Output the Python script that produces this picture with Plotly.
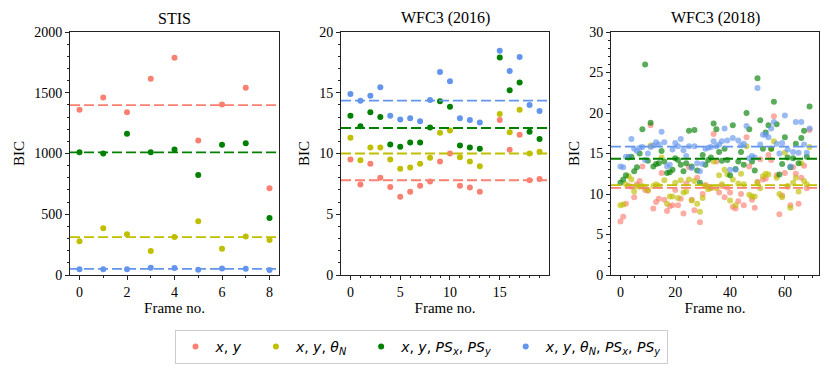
import plotly.graph_objects as go

# ---- data ----
labels = ["<i>x</i>, <i>y</i>&nbsp;&nbsp;",
          "<i>x</i>, <i>y</i>, <i>θ</i><sub><i>N</i></sub>&nbsp;&nbsp;",
          "<i>x</i>, <i>y</i>, <i>PS</i><sub><i>x</i></sub>, <i>PS</i><sub><i>y</i></sub>&nbsp;&nbsp;",
          "<i>x</i>, <i>y</i>, <i>θ</i><sub><i>N</i></sub>, <i>PS</i><sub><i>x</i></sub>, <i>PS</i><sub><i>y</i></sub>"]
colors = ["#fa8072", "#bfbf00", "#008000", "#6495ed"]
titles = ["STIS", "WFC3 (2016)", "WFC3 (2018)"]

stis_frames = list(range(9))
stis_xy = [1360, 1460, 1340, 1615, 1788, 1107, 1404, 1541, 714]
stis_xy_theta = [277, 385, 335, 198, 313, 442, 217, 316, 288]
stis_xy_ps = [1010, 1000, 1162, 1010, 1033, 824, 1071, 1085, 470]
stis_all = [48, 47, 47, 60, 57, 43, 53, 52, 42]
stis_lines = [1398, 312, 1010, 50]

w16_frames = [0, 1, 2, 3, 4, 5, 6, 7, 8, 9, 10, 11, 12, 13, 15, 16, 17, 18, 19]
w16_xy = [9.5, 7.45, 9.15, 8.0, 7.25, 6.45, 6.85, 7.35, 7.7, 9.35, 10.0, 7.35, 7.2, 6.85,
          12.75, 10.3, 11.55, 7.8, 7.9]
w16_xy_theta = [11.3, 9.45, 10.5, 10.5, 9.5, 8.75, 8.85, 9.15, 9.65, 11.7, 11.9, 9.7, 9.35, 8.95,
                13.25, 11.75, 13.6, 10.0, 10.15]
w16_xy_ps = [13.1, 12.25, 13.4, 13.0, 10.75, 10.55, 10.9, 10.9, 12.15, 14.3, 13.85, 10.65, 10.5, 10.4,
             17.9, 15.2, 15.85, 11.8, 11.2]
w16_all = [14.9, 14.35, 14.75, 15.45, 13.1, 12.8, 12.9, 12.65, 14.4, 16.7, 15.95, 12.9, 12.75, 12.55,
           18.45, 16.8, 17.95, 14.0, 13.5]
w16_lines = [7.8, 10.0, 12.1, 14.35]

w18_frames = list(range(70))
w18_xy = [6.6, 7.2, 8.8, 11.0, 10.9, 9.6, 11.2, 11.6, 13.4, 10.5,
          10.4, 18.5, 8.2, 9.0, 9.4, 12.6, 9.3, 7.9, 8.5, 8.6,
          10.5, 8.6, 9.4, 7.6, 11.3, 13.3, 9.3, 8.0, 12.0, 6.5,
          10.0, 11.1, 10.9, 10.7, 17.4, 14.0, 10.2, 11.0, 9.6, 10.8,
          10.2, 8.4, 8.2, 9.1, 10.0, 8.6, 17.0, 13.4, 9.3, 8.3,
          11.5, 14.3, 11.8, 11.9, 14.8, 14.2, 19.6, 12.3, 7.5, 9.8,
          12.6, 10.9, 8.6, 13.3, 12.5, 8.8, 12.0, 13.5, 10.7, 17.9]
w18_xy_theta = [8.6, 8.7, 11.2, 12.2, 11.8, 10.3, 11.0, 10.9, 11.0, 10.8,
                10.5, 16.0, 11.0, 11.2, 11.0, 14.5, 11.7, 8.8, 9.7, 9.7,
                11.4, 9.5, 11.7, 10.2, 10.3, 11.8, 9.2, 11.6, 8.8, 7.8,
                9.5, 11.0, 10.6, 10.8, 14.0, 10.7, 12.3, 11.2, 13.0, 12.4,
                9.2, 11.8, 8.6, 11.3, 12.5, 11.2, 15.9, 9.9, 9.7, 9.7,
                11.4, 10.7, 12.2, 12.5, 12.4, 15.6, 16.5, 12.0, 10.0, 9.6,
                15.1, 11.0, 8.3, 11.4, 12.0, 10.3, 13.8, 11.6, 11.2, 15.8]
w18_xy_ps = [11.4, 11.8, 12.3, 14.5, 14.6, 12.8, 13.3, 15.0, 18.0, 26.0,
             14.1, 18.8, 13.4, 13.7, 13.8, 15.3, 14.0, 12.6, 12.7, 13.0,
             14.4, 14.2, 13.6, 12.8, 13.8, 17.8, 13.4, 17.9, 12.9, 11.4,
             14.8, 13.6, 14.2, 14.5, 18.7, 18.0, 15.2, 14.1, 15.6, 14.2,
             12.3, 18.5, 13.1, 14.0, 15.2, 13.6, 20.0, 18.0, 14.0, 12.9,
             24.3, 19.1, 15.6, 17.6, 18.5, 15.6, 21.4, 18.6, 12.4, 13.7,
             17.0, 14.5, 13.3, 14.4, 16.2, 13.8, 16.9, 17.8, 14.6, 20.8]
w18_all = [13.4, 13.3, 14.6, 14.6, 16.8, 15.6, 15.3, 15.7, 15.8, 14.2,
           15.0, 15.8, 16.0, 16.4, 16.1, 17.7, 16.4, 13.4, 13.6, 15.5,
           16.3, 15.9, 16.8, 15.4, 14.7, 15.9, 13.2, 15.9, 13.8, 12.8,
           13.7, 15.6, 15.7, 15.8, 16.5, 15.9, 16.1, 16.5, 18.1, 16.6,
           13.0, 16.9, 13.0, 16.6, 16.0, 16.2, 18.4, 14.4, 14.7, 14.5,
           23.1, 16.1, 17.3, 17.3, 17.0, 18.1, 18.9, 16.2, 15.0, 16.3,
           19.7, 15.5, 13.4, 15.2, 18.9, 15.1, 18.9, 16.1, 15.1, 18.1]
w18_lines = [10.75, 11.1, 14.35, 15.85]

panels = [
    (stis_frames, [stis_xy, stis_xy_theta, stis_xy_ps, stis_all], stis_lines, 1.0),
    (w16_frames, [w16_xy, w16_xy_theta, w16_xy_ps, w16_all], w16_lines, 1.0),
    (w18_frames, [w18_xy, w18_xy_theta, w18_xy_ps, w18_all], w18_lines, 0.65),
]
xranges = [[-0.4, 8.4], [-0.95, 19.95], [-3.45, 72.45]]
yranges = [[0, 2000], [0, 20], [0, 30]]
xdtick = [2, 5, 20]
xminor = [1, 1, 5]
ydtick = [500, 5, 5]
yminor = [100, 1, 1]

# the page body adds an 8px margin, so pixel positions are shifted back by 8
W, H, OFF = 830, 371, 8
def px(x):
    return (x - OFF) / W
def py(y):
    return 1 - (y - OFF) / H

xdomains = [[px(70), px(279)], [px(341), px(549)], [px(611), px(819)]]
ydomain = [py(275), py(32)]

serif = "Liberation Serif"
fig = go.Figure()

for p, (frames, series, lines, alpha) in enumerate(panels):
    xa = "x" if p == 0 else f"x{p + 1}"
    ya = "y" if p == 0 else f"y{p + 1}"
    for s, vals in enumerate(series):
        fig.add_trace(go.Scatter(
            x=frames, y=vals, mode="markers", xaxis=xa, yaxis=ya,
            marker=dict(color=colors[s], size=6, opacity=alpha, line=dict(width=0)),
            name=labels[s], showlegend=(p == 0)))
    for s, lv in enumerate(lines):
        fig.add_shape(type="line", xref=f"{xa} domain", yref=ya, x0=0, x1=1, y0=lv, y1=lv,
                      line=dict(color=colors[s], width=1.8, dash="10px,4px"), layer="above")
    fig.add_annotation(text=titles[p], xref=f"{xa} domain", yref="paper", x=0.5, y=py(18),
                       yanchor="middle", showarrow=False,
                       font=dict(family=serif, size=16, color="black"))

    axis_common = dict(showline=True, linecolor="#222", linewidth=1, mirror=True,
                       ticks="outside", ticklen=4, tickcolor="#222", showgrid=False, zeroline=False,
                       tickfont=dict(family=serif, size=14, color="black"))
    xkey = "xaxis" if p == 0 else f"xaxis{p + 1}"
    ykey = "yaxis" if p == 0 else f"yaxis{p + 1}"
    fig.update_layout({
        xkey: dict(axis_common, domain=xdomains[p], anchor=ya, range=xranges[p],
                   tick0=0, dtick=xdtick[p],
                   minor=dict(ticks="outside", ticklen=2, dtick=xminor[p], tick0=0, tickcolor="#222"),
                   title=dict(text="Frame no.", font=dict(family=serif, size=15, color="black"), standoff=1)),
        ykey: dict(axis_common, domain=ydomain, anchor=xa, range=yranges[p],
                   tick0=0, dtick=ydtick[p],
                   minor=dict(ticks="outside", ticklen=2, dtick=yminor[p], tick0=0, tickcolor="#222"),
                   title=dict(text="BIC", font=dict(family=serif, size=15, color="black"), standoff=5)),
    })

fig.update_layout(
    width=W, height=H,
    margin=dict(l=0, r=0, t=0, b=0, autoexpand=False),
    plot_bgcolor="white", paper_bgcolor="white",
    legend=dict(orientation="h", x=px(421), xanchor="center", y=py(330), yanchor="top",
                bordercolor="#cccccc", borderwidth=1,
                font=dict(family="DejaVu Sans", size=14, color="black"),
                itemsizing="trace"),
)

fig.write_html("out.html")
